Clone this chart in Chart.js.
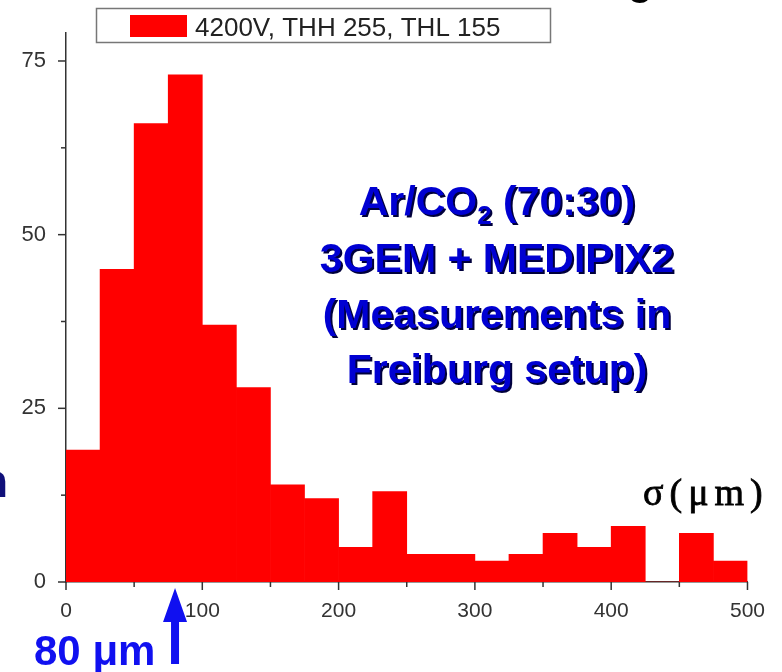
<!DOCTYPE html>
<html>
<head>
<meta charset="utf-8">
<script src="https://cdn.jsdelivr.net/npm/chart.js@4.4.1/dist/chart.umd.min.js"></script>
<style>
  html, body { margin: 0; padding: 0; background: #fff; }
  #wrap { width: 782px; height: 672px; position: relative; }
</style>
</head>
<body>
<div id="wrap"><canvas id="myChart"></canvas></div>
<script>
// sigma histogram, 25 um bins
const binCenters = [12.5, 37.5, 62.5, 87.5, 112.5, 137.5, 162.5, 187.5, 212.5, 237.5,
                    262.5, 287.5, 312.5, 337.5, 362.5, 387.5, 412.5, 437.5, 462.5, 487.5];
const counts = [19, 45, 66, 73, 37, 28, 14, 12, 5, 13, 4, 4, 3, 4, 7, 5, 8, 0, 7, 3];
const xTicks = [0, 100, 200, 300, 400, 500];
const yTicks = [0, 25, 50, 75];
const seriesLabel = '4200V, THH 255, THL 155';
const noteLines = ['3GEM + MEDIPIX2', '(Measurements in', 'Freiburg setup)'];
const markedSigma = 80;

// minor ticks half way between labelled ones
const xMinor = xTicks.slice(1).map((v, i) => (v + xTicks[i]) / 2);
const yMinor = yTicks.slice(1).map((v, i) => (v + yTicks[i]) / 2);
const xAll = xTicks.concat(xMinor).sort((a, b) => a - b);
const yAll = yTicks.concat(yMinor).sort((a, b) => a - b);

const BLUE = '#0000d2';
const FONT = "'Liberation Sans', Arial, sans-serif";

const overlay = {
  id: 'overlay',
  afterDraw(chart) {
    const ctx = chart.ctx;
    const xs = chart.scales.x, ys = chart.scales.y;
    const y0 = ys.getPixelForValue(0), x0 = xs.getPixelForValue(0);
    ctx.save();

    // tick marks, outward
    ctx.strokeStyle = '#333';
    ctx.lineWidth = 1.5;
    xs.ticks.forEach(t => {
      const px = xs.getPixelForValue(t.value);
      ctx.beginPath();
      ctx.moveTo(px, y0);
      ctx.lineTo(px, y0 + (xTicks.includes(t.value) ? 8 : 5));
      ctx.stroke();
    });
    ys.ticks.forEach(t => {
      const py = ys.getPixelForValue(t.value);
      ctx.beginPath();
      ctx.moveTo(x0, py);
      ctx.lineTo(x0 - (yTicks.includes(t.value) ? 8 : 5), py);
      ctx.stroke();
    });

    // legend box
    const ds = chart.data.datasets[0];
    ctx.fillStyle = '#fff';
    ctx.fillRect(96, 8, 455, 35);
    ctx.strokeStyle = '#777';
    ctx.lineWidth = 1.5;
    ctx.strokeRect(96.5, 8.5, 454, 34);
    ctx.fillStyle = ds.backgroundColor;
    ctx.fillRect(130, 15, 57, 22);
    ctx.fillStyle = '#222';
    ctx.font = '26px ' + FONT;
    ctx.textBaseline = 'alphabetic';
    ctx.textAlign = 'left';
    ctx.fillText(ds.label, 195, 36);

    // gas / setup note
    ctx.fillStyle = BLUE;
    ctx.shadowColor = '#00003c';
    ctx.shadowOffsetX = 2;
    ctx.shadowOffsetY = 2;
    ctx.shadowBlur = 0;
    const cx = 497;
    const big = 'bold 41px ' + FONT, small = 'bold 26px ' + FONT;
    ctx.font = big;
    const wA = ctx.measureText('Ar/CO').width;
    const wC = ctx.measureText(' (70:30)').width;
    ctx.font = small;
    const wS = ctx.measureText('2').width;
    let lx = cx - (wA + wS + wC) / 2;
    ctx.font = big;
    ctx.fillText('Ar/CO', lx, 215);
    ctx.font = small;
    ctx.fillText('2', lx + wA, 224);
    ctx.font = big;
    ctx.fillText(' (70:30)', lx + wA + wS, 215);
    ctx.textAlign = 'center';
    const baselines = [272, 328, 383];
    noteLines.forEach((s, i) => ctx.fillText(s, cx, baselines[i]));
    ctx.shadowColor = 'transparent';
    ctx.shadowOffsetX = 0;
    ctx.shadowOffsetY = 0;

    // axis title
    ctx.textAlign = 'left';
    ctx.fillStyle = '#000';
    ctx.strokeStyle = '#000';
    ctx.lineWidth = 0.8;
    ctx.font = "38px 'Liberation Serif', serif";
    ctx.letterSpacing = '6px';
    ctx.fillText('σ(μm)', 643, 505);
    ctx.strokeText('σ(μm)', 643, 505);
    ctx.letterSpacing = '0px';

    // marker for the 80 um value
    const ax = xs.getPixelForValue(markedSigma);
    const tip = y0 + 6;
    ctx.fillStyle = '#1010f0';
    ctx.beginPath();
    ctx.moveTo(ax, tip);
    ctx.lineTo(ax + 12, tip + 34);
    ctx.lineTo(ax + 4, tip + 34);
    ctx.lineTo(ax + 4, tip + 76);
    ctx.lineTo(ax - 4, tip + 76);
    ctx.lineTo(ax - 4, tip + 34);
    ctx.lineTo(ax - 12, tip + 34);
    ctx.closePath();
    ctx.fill();
    ctx.font = 'bold 42px ' + FONT;
    ctx.fillText(markedSigma + ' μm', 34, 665);

    // letters cut at the edges
    ctx.fillStyle = '#10107a';
    ctx.font = 'bold 46px ' + FONT;
    ctx.textAlign = 'right';
    ctx.fillText('n', 8, 497);
    ctx.fillStyle = '#000';
    ctx.font = 'bold 40px ' + FONT;
    ctx.textAlign = 'left';
    ctx.fillText('g', 628, -5);

    ctx.restore();
  }
};

const data = {
  datasets: [{
    label: seriesLabel,
    data: binCenters.map((c, i) => ({ x: c, y: counts[i] })),
    backgroundColor: '#ff0000',
    borderWidth: 0,
    barPercentage: 1,
    categoryPercentage: 1
  }]
};

const config = {
  type: 'bar',
  data: data,
  options: {
    responsive: true,
    maintainAspectRatio: false,
    animation: false,
    layout: { padding: { top: 22, right: 32, bottom: 50, left: 0 } },
    plugins: { legend: { display: false }, tooltip: { enabled: false } },
    scales: {
      x: {
        type: 'linear', min: 0, max: 500, offset: false, z: 1,
        grid: { display: false, drawTicks: false },
        border: { display: true, color: '#333', width: 1.5 },
        ticks: {
          padding: 17, color: '#333', autoSkip: false, maxRotation: 0,
          font: { family: FONT, size: 21 },
          callback: v => xTicks.includes(v) ? String(v) : ''
        },
        afterBuildTicks: s => { s.ticks = xAll.map(v => ({ value: v })); },
        afterFit: s => { s.height = 40; }
      },
      y: {
        min: 0, max: 79, z: 1,
        grid: { display: false, drawTicks: false },
        border: { display: true, color: '#333', width: 1.5 },
        ticks: {
          padding: 20, color: '#333', autoSkip: false,
          font: { family: FONT, size: 22 },
          callback: v => yTicks.includes(v) ? String(v) : ''
        },
        afterBuildTicks: s => { s.ticks = yAll.map(v => ({ value: v })); },
        afterFit: s => { s.width = 66; }
      }
    }
  },
  plugins: [overlay]
};

const myChart = new Chart(document.getElementById('myChart'), config);
</script>
</body>
</html>
